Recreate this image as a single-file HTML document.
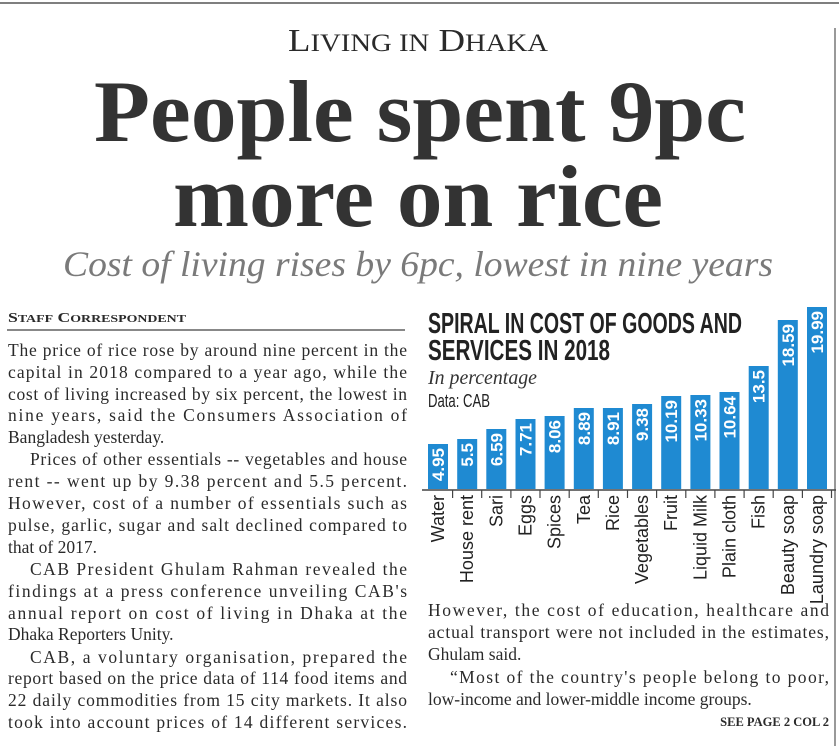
<!DOCTYPE html>
<html><head><meta charset="utf-8"><style>
html,body{margin:0;padding:0;background:#fff;}
svg{display:block;}
.b{font-family:"Liberation Serif",serif;font-size:17.5px;fill:#2a2a2a;}
.c{font-family:"Liberation Sans Narrow","Liberation Sans",sans-serif;}
</style></head><body>
<svg width="839" height="746" viewBox="0 0 839 746" xmlns="http://www.w3.org/2000/svg">
<rect width="839" height="746" fill="#fff"/>
<line x1="0" y1="3" x2="839" y2="3" stroke="#555" stroke-width="1.5"/>
<line x1="835" y1="28" x2="835" y2="746" stroke="#333" stroke-width="1"/>
<!-- header -->
<text x="418" y="51" text-anchor="middle" font-family="Liberation Serif,serif" font-size="32" fill="#2a2a2a" textLength="260" lengthAdjust="spacingAndGlyphs">L<tspan font-size="25">IVING IN</tspan> D<tspan font-size="25">HAKA</tspan></text>
<text x="94" y="141" font-family="Liberation Serif,serif" font-weight="bold" font-size="88" fill="#333" textLength="652" lengthAdjust="spacingAndGlyphs">People spent 9pc</text>
<text x="173" y="226" font-family="Liberation Serif,serif" font-weight="bold" font-size="88" fill="#333" textLength="490" lengthAdjust="spacingAndGlyphs">more on rice</text>
<text x="63" y="276" font-family="Liberation Serif,serif" font-style="italic" font-size="36" fill="#7a7a7a" textLength="710" lengthAdjust="spacingAndGlyphs">Cost of living rises by 6pc, lowest in nine years</text>
<!-- byline -->
<text x="8" y="322" font-family="Liberation Serif,serif" font-weight="bold" font-size="14" fill="#2a2a2a" textLength="178" lengthAdjust="spacingAndGlyphs">S<tspan font-size="11">TAFF</tspan> C<tspan font-size="11">ORRESPONDENT</tspan></text>
<line x1="7" y1="330" x2="405" y2="330" stroke="#888" stroke-width="2"/>
<!-- left column -->
<g class="b">
<text x="8" y="356" textLength="399" lengthAdjust="spacing">The price of rice rose by around nine percent in the</text>
<text x="8" y="378" textLength="399" lengthAdjust="spacing">capital in 2018 compared to a year ago, while the</text>
<text x="8" y="400" textLength="399" lengthAdjust="spacing">cost of living increased by six percent, the lowest in</text>
<text x="8" y="421" textLength="399" lengthAdjust="spacing">nine years, said the Consumers Association of</text>
<text x="8" y="443">Bangladesh yesterday.</text>
<text x="30" y="465" textLength="377" lengthAdjust="spacing">Prices of other essentials -- vegetables and house</text>
<text x="8" y="487" textLength="399" lengthAdjust="spacing">rent -- went up by 9.38 percent and 5.5 percent.</text>
<text x="8" y="509" textLength="399" lengthAdjust="spacing">However, cost of a number of essentials such as</text>
<text x="8" y="531" textLength="399" lengthAdjust="spacing">pulse, garlic, sugar and salt declined compared to</text>
<text x="8" y="553">that of 2017.</text>
<text x="30" y="575" textLength="377" lengthAdjust="spacing">CAB President Ghulam Rahman revealed the</text>
<text x="8" y="597" textLength="399" lengthAdjust="spacing">findings at a press conference unveiling CAB's</text>
<text x="8" y="619" textLength="399" lengthAdjust="spacing">annual report on cost of living in Dhaka at the</text>
<text x="8" y="640">Dhaka Reporters Unity.</text>
<text x="30" y="663" textLength="377" lengthAdjust="spacing">CAB, a voluntary organisation, prepared the</text>
<text x="8" y="684" textLength="399" lengthAdjust="spacing">report based on the price data of 114 food items and</text>
<text x="8" y="706" textLength="399" lengthAdjust="spacing">22 daily commodities from 15 city markets. It also</text>
<text x="8" y="728" textLength="399" lengthAdjust="spacing">took into account prices of 14 different services.</text>
</g>
<!-- right column -->
<g class="b">
<text x="428" y="616" textLength="401" lengthAdjust="spacing">However, the cost of education, healthcare and</text>
<text x="428" y="638" textLength="401" lengthAdjust="spacing">actual transport were not included in the estimates,</text>
<text x="428" y="660">Ghulam said.</text>
<text x="450" y="683" textLength="379" lengthAdjust="spacing">“Most of the country's people belong to poor,</text>
<text x="428" y="705">low-income and lower-middle income groups.</text>
</g>
<text x="829" y="726" text-anchor="end" font-family="Liberation Serif,serif" font-weight="bold" font-size="12.5" fill="#2a2a2a">SEE PAGE 2 COL 2</text>
<!-- chart title -->
<text x="428" y="333" class="c" font-weight="bold" font-size="29" fill="#222" textLength="314" lengthAdjust="spacingAndGlyphs">SPIRAL IN COST OF GOODS AND</text>
<text x="428" y="360" class="c" font-weight="bold" font-size="29" fill="#222" textLength="182" lengthAdjust="spacingAndGlyphs">SERVICES IN 2018</text>
<text x="428" y="384" font-family="Liberation Serif,serif" font-style="italic" font-size="20" fill="#333" textLength="109" lengthAdjust="spacingAndGlyphs">In percentage</text>
<text x="428" y="407" class="c" font-size="18" fill="#222" textLength="62" lengthAdjust="spacingAndGlyphs">Data: CAB</text>
<!-- bars -->
<g fill="#1f8ad2">
<rect x="428" y="444" width="20" height="45"/>
<rect x="457.2" y="439" width="20" height="50"/>
<rect x="486.3" y="429" width="20" height="60"/>
<rect x="515.5" y="419" width="20" height="70"/>
<rect x="544.6" y="416" width="20" height="73"/>
<rect x="573.8" y="408" width="20" height="81"/>
<rect x="602.9" y="408" width="20" height="81"/>
<rect x="632.1" y="404" width="20" height="85"/>
<rect x="661.2" y="396" width="20" height="93"/>
<rect x="690.4" y="395" width="20" height="94"/>
<rect x="719.5" y="392" width="20" height="97"/>
<rect x="748.7" y="366" width="20" height="123"/>
<rect x="777.8" y="320" width="20" height="169"/>
<rect x="807" y="307" width="20" height="182"/>
</g>
<line x1="422" y1="490" x2="836" y2="490" stroke="#444" stroke-width="1.5"/>
<g stroke="#444" stroke-width="1.2">
<line x1="452.6" y1="490" x2="452.6" y2="498"/><line x1="481.7" y1="490" x2="481.7" y2="498"/><line x1="510.9" y1="490" x2="510.9" y2="498"/><line x1="540" y1="490" x2="540" y2="498"/><line x1="569.2" y1="490" x2="569.2" y2="498"/><line x1="598.3" y1="490" x2="598.3" y2="498"/><line x1="627.5" y1="490" x2="627.5" y2="498"/><line x1="656.6" y1="490" x2="656.6" y2="498"/><line x1="685.8" y1="490" x2="685.8" y2="498"/><line x1="714.9" y1="490" x2="714.9" y2="498"/><line x1="744.1" y1="490" x2="744.1" y2="498"/><line x1="773.2" y1="490" x2="773.2" y2="498"/><line x1="802.4" y1="490" x2="802.4" y2="498"/><line x1="831.5" y1="490" x2="831.5" y2="498"/>
</g>
<!-- values -->
<g class="c" font-weight="bold" font-size="17" fill="#fff" text-anchor="end">
<text transform="translate(444,448) rotate(-90)">4.95</text>
<text transform="translate(473.2,443) rotate(-90)">5.5</text>
<text transform="translate(502.3,433) rotate(-90)">6.59</text>
<text transform="translate(531.5,423) rotate(-90)">7.71</text>
<text transform="translate(560.6,420) rotate(-90)">8.06</text>
<text transform="translate(589.8,412) rotate(-90)">8.89</text>
<text transform="translate(618.9,412) rotate(-90)">8.91</text>
<text transform="translate(648.1,408) rotate(-90)">9.38</text>
<text transform="translate(677.2,400) rotate(-90)">10.19</text>
<text transform="translate(706.4,399) rotate(-90)">10.33</text>
<text transform="translate(735.5,396) rotate(-90)">10.64</text>
<text transform="translate(764.7,370) rotate(-90)">13.5</text>
<text transform="translate(793.8,324) rotate(-90)">18.59</text>
<text transform="translate(823,311) rotate(-90)">19.99</text>
</g>
<!-- labels -->
<g class="c" font-size="18" fill="#222" text-anchor="end">
<text transform="translate(444,495) rotate(-90)">Water</text>
<text transform="translate(473.2,495) rotate(-90)">House rent</text>
<text transform="translate(502.3,495) rotate(-90)">Sari</text>
<text transform="translate(531.5,495) rotate(-90)">Eggs</text>
<text transform="translate(560.6,495) rotate(-90)">Spices</text>
<text transform="translate(589.8,495) rotate(-90)">Tea</text>
<text transform="translate(618.9,495) rotate(-90)">Rice</text>
<text transform="translate(648.1,495) rotate(-90)">Vegetables</text>
<text transform="translate(677.2,495) rotate(-90)">Fruit</text>
<text transform="translate(706.4,495) rotate(-90)">Liquid Milk</text>
<text transform="translate(735.5,495) rotate(-90)">Plain cloth</text>
<text transform="translate(764.7,495) rotate(-90)">Fish</text>
<text transform="translate(793.8,495) rotate(-90)">Beauty soap</text>
<text transform="translate(823,495) rotate(-90)">Laundry soap</text>
</g>
</svg>
</body></html>
